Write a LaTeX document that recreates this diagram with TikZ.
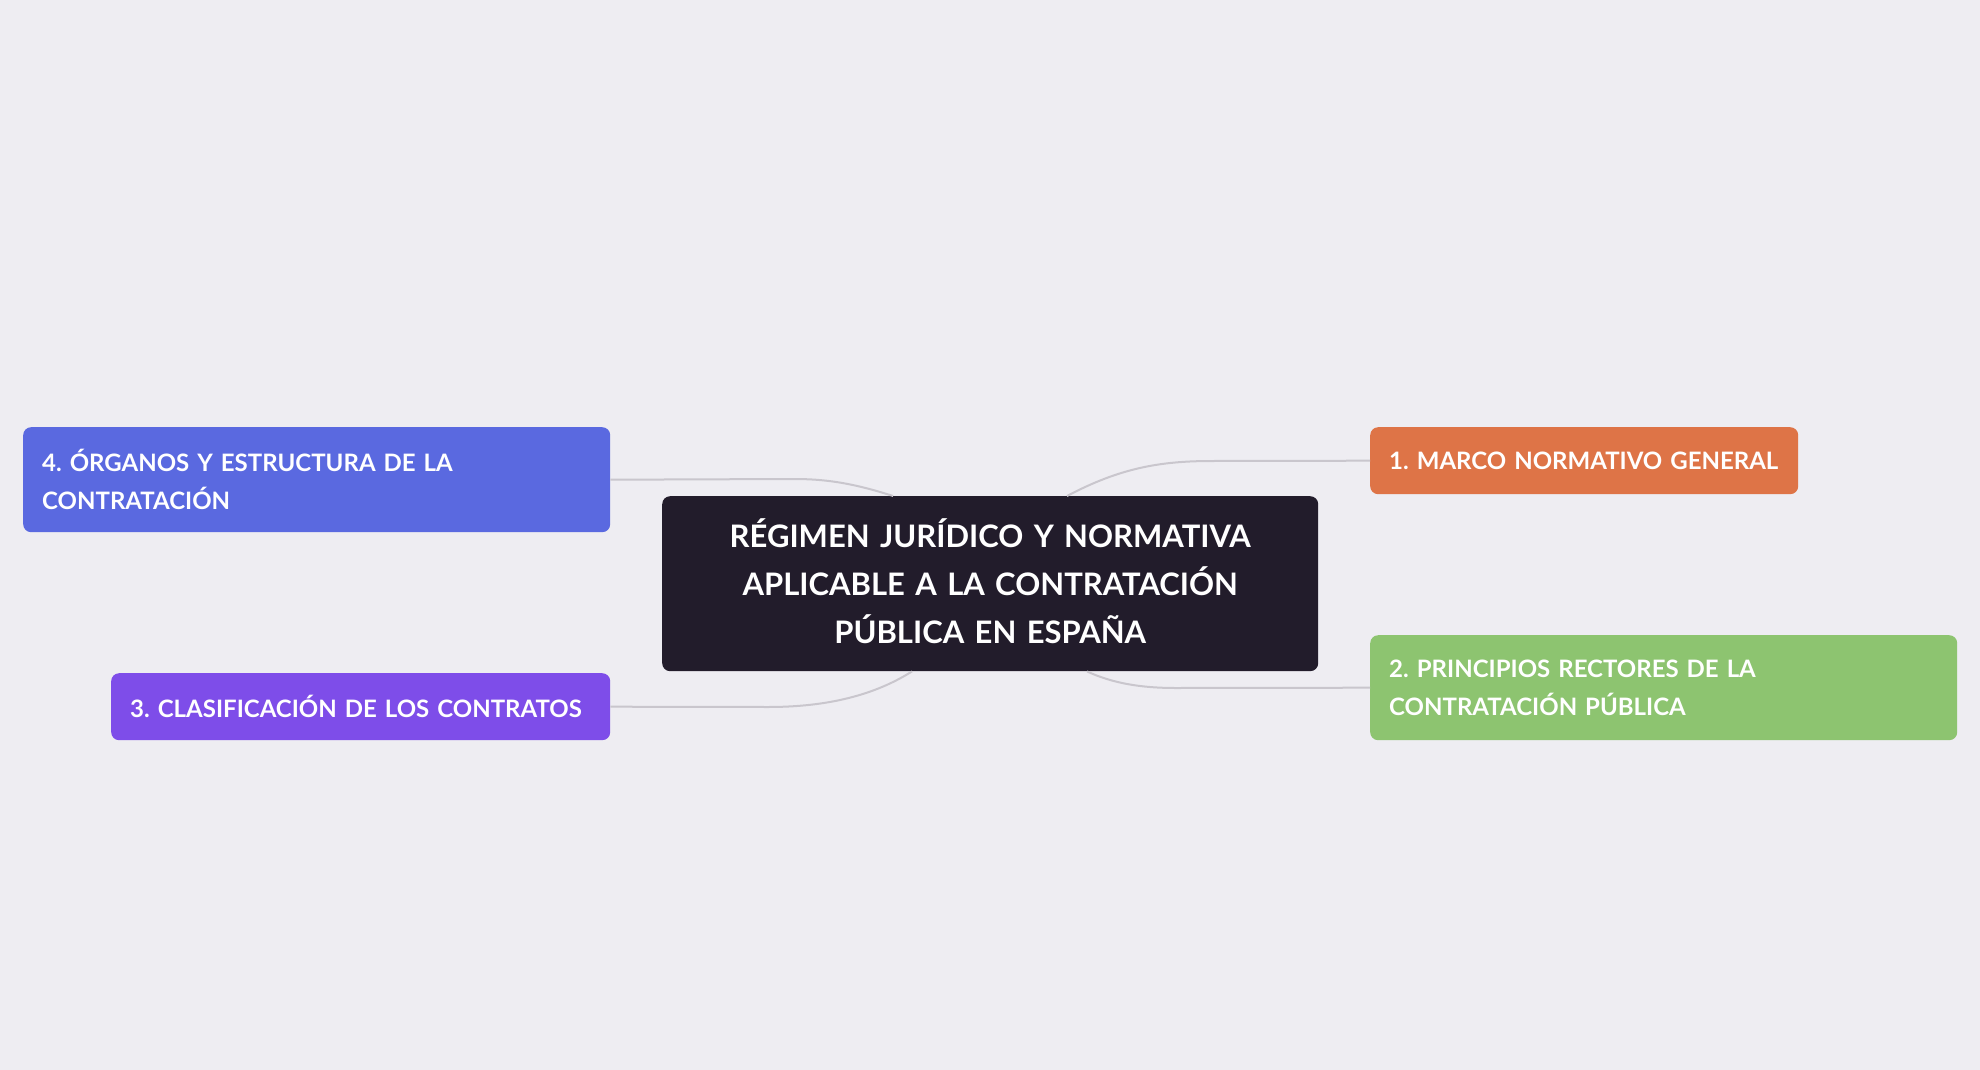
\documentclass[tikz,border=0pt]{standalone}
\usepackage{fontspec}
\setmainfont{Lato}
\usetikzlibrary{calc}
\frenchspacing
\hyphenpenalty=10000
\exhyphenpenalty=10000
\definecolor{bg}{HTML}{EEEDF2}
\definecolor{centerc}{HTML}{221C2B}
\definecolor{bluec}{HTML}{5A69E0}
\definecolor{purplec}{HTML}{7E4DE9}
\definecolor{orangec}{HTML}{DE7447}
\definecolor{greenc}{HTML}{8DC470}
\definecolor{linkc}{HTML}{C9C6CD}
\tikzset{
  branch/.style={fill=#1, rounded corners=8pt, anchor=north west, inner xsep=19pt, inner ysep=0pt,
    align=left, text=white, font=\fontsize{24}{38}\selectfont\bfseries},
  hub/.style={fill=centerc, rounded corners=8pt, anchor=north west, inner sep=0pt,
    align=center, text=white, font=\fontsize{31}{48}\selectfont\bfseries},
  link/.style={draw=linkc, line width=2pt}
}
\begin{document}
\begin{tikzpicture}[x=1pt,y=-1pt]
\fill[bg] (0,0) rectangle (1980,1070);
\useasboundingbox (0,0) rectangle (1980,1070);
\node[hub, minimum width=656pt, minimum height=175pt, text width=620pt] (c) at (662,496)
  {RÉGIMEN JURÍDICO Y NORMATIVA\\APLICABLE A LA CONTRATACIÓN\\PÚBLICA EN ESPAÑA\rule[-5pt]{0pt}{5pt}};
\node[branch=orangec, minimum width=428pt, minimum height=67pt, text width=390pt] (b1) at (1370,427)
  {1. MARCO NORMATIVO GENERAL};
\node[branch=greenc, minimum width=587pt, minimum height=105pt, text width=549pt] (b2) at (1370,635)
  {2. PRINCIPIOS RECTORES DE LA\\CONTRATACIÓN PÚBLICA};
\node[branch=purplec, minimum width=499pt, minimum height=67pt, text width=461pt] (b3) at (111,673)
  {3. CLASIFICACIÓN DE LOS CONTRATOS};
\node[branch=bluec, minimum width=587pt, minimum height=105pt, text width=549pt] (b4) at (23,427)
  {4. ÓRGANOS Y ESTRUCTURA DE LA\\CONTRATACIÓN};
\coordinate (s1) at ($(c.north west)+(405,0)$);
\coordinate (s2) at ($(c.south west)+(425,0)$);
\coordinate (s3) at ($(c.south west)+(250,0)$);
\coordinate (s4) at ($(c.north west)+(231,0)$);
\draw[link] (s1) .. controls (1120,468) and (1160,461) .. (1212,461) -- (b1.west);
\draw[link] (s2) .. controls (1112,683) and (1140,688) .. (1176,688) -- (b2.west);
\draw[link] (s3) .. controls (870,698) and (820,707) .. (768,707) -- (b3.east);
\draw[link] (s4) .. controls (850,482) and (822,479) .. (794,479) -- (b4.east);
\end{tikzpicture}
\end{document}
